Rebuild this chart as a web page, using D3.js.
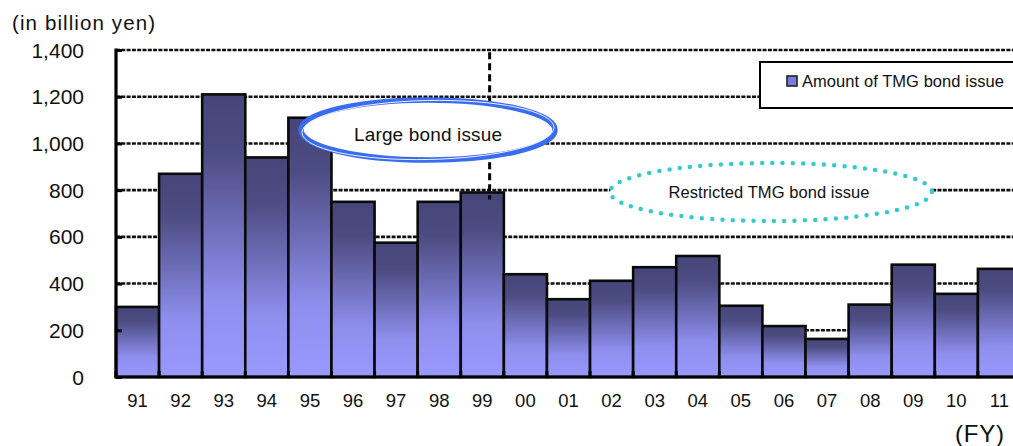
<!DOCTYPE html>
<html>
<head>
<meta charset="utf-8">
<script src="https://cdn.jsdelivr.net/npm/d3@7"></script>
<style>
  html, body { margin: 0; padding: 0; background: #fff; overflow: hidden; }
  text { font-family: "Liberation Sans", Arial, sans-serif; fill: #111; }
</style>
</head>
<body>
<svg id="chart" width="1013" height="446"></svg>
<script>
const categories = ["91","92","93","94","95","96","97","98","99","00","01","02","03","04","05","06","07","08","09","10","11"];
const values = [300,870,1210,940,1110,750,575,750,790,440,333,412,470,518,305,218,163,310,481,356,463];
const yTicks = [0,200,400,600,800,1000,1200,1400];
const seriesName = "Amount of TMG bond issue";
const unitLabel = "(in billion yen)";
const xUnitLabel = "(FY)";
const annotationLarge = "Large bond issue";
const annotationRestricted = "Restricted TMG bond issue";
const dividerCategory = "99";

(function () {
const svg = d3.select("#chart");
const pL = 116, pR = 1021, pT = 50, pB = 377;

const x = d3.scaleBand().domain(categories).range([pL, pR]).padding(0);
const y = d3.scaleLinear().domain([0, 1400]).range([pB, pT]);

const defs = svg.append("defs");
const grad = defs.append("linearGradient").attr("id", "barGrad")
  .attr("x1", 0).attr("y1", 0).attr("x2", 0).attr("y2", 1);
grad.append("stop").attr("offset", 0).attr("stop-color", "#46467a");
grad.append("stop").attr("offset", 0.2).attr("stop-color", "#4c4c82");
grad.append("stop").attr("offset", 0.47).attr("stop-color", "#6e6eba");
grad.append("stop").attr("offset", 0.72).attr("stop-color", "#8e8eee");
grad.append("stop").attr("offset", 1).attr("stop-color", "#9999ff");

// gridlines
svg.append("g").selectAll("line").data(yTicks.filter(d => d > 0)).join("line")
  .attr("x1", pL).attr("x2", pR)
  .attr("y1", d => y(d)).attr("y2", d => y(d))
  .attr("stroke", "#111").attr("stroke-width", 2.6)
  .attr("stroke-dasharray", "4 1.3");

// bars
svg.append("g").selectAll("rect").data(values).join("rect")
  .attr("x", (d, i) => x(categories[i]))
  .attr("y", d => y(d))
  .attr("width", x.bandwidth())
  .attr("height", d => y(0) - y(d))
  .attr("fill", "url(#barGrad)")
  .attr("stroke", "#0a0a0a").attr("stroke-width", 2.6);

// y axis
const yAxis = d3.axisRight(y).tickValues(yTicks).tickSize(6).tickFormat("");
const gy = svg.append("g").attr("transform", `translate(${pL},0)`).call(yAxis);
gy.select(".domain").remove();
gy.selectAll("line").attr("stroke", "#000").attr("stroke-width", 3);
svg.append("g").selectAll("text").data(yTicks).join("text")
  .attr("x", 84).attr("y", d => y(d) + 7.5)
  .attr("text-anchor", "end").attr("font-size", 21)
  .text(d => d3.format(",")(d));

// x axis ticks at band boundaries
const bounds = categories.map(c => x(c));
svg.append("g").selectAll("line").data(bounds).join("line")
  .attr("x1", d => d).attr("x2", d => d)
  .attr("y1", pB).attr("y2", pB - 6)
  .attr("stroke", "#000").attr("stroke-width", 3);
svg.append("g").selectAll("text").data(categories).join("text")
  .attr("x", d => x(d) + x.bandwidth() / 2)
  .attr("y", 407)
  .attr("text-anchor", "middle").attr("font-size", 18.5)
  .text(d => d);

// axis lines
svg.append("line").attr("x1", pL).attr("x2", pL).attr("y1", pT - 1.5).attr("y2", pB + 1.5)
  .attr("stroke", "#000").attr("stroke-width", 3.2);
svg.append("line").attr("x1", pL).attr("x2", pR).attr("y1", pB).attr("y2", pB)
  .attr("stroke", "#000").attr("stroke-width", 3.2);

// vertical dashed divider
const dx = x(dividerCategory) + x.bandwidth() * 0.67;
svg.append("line").attr("x1", dx).attr("x2", dx).attr("y1", y(1390)).attr("y2", y(760))
  .attr("stroke", "#000").attr("stroke-width", 3).attr("stroke-dasharray", "7 4");

// Large bond issue ellipse
const lg = svg.append("g");
lg.append("ellipse").attr("cx", 428).attr("cy", 130).attr("rx", 127).attr("ry", 30)
  .attr("fill", "#fff").attr("stroke", "#3a6cf0").attr("stroke-width", 5.5);
lg.append("ellipse").attr("cx", 428).attr("cy", 130).attr("rx", 126).attr("ry", 29.5)
  .attr("transform", "rotate(-1.2 428 130)")
  .attr("fill", "none").attr("stroke", "#fff").attr("stroke-width", 0.9);
lg.append("text").attr("x", 428).attr("y", 141).attr("text-anchor", "middle")
  .attr("font-size", 19).attr("textLength", 148).text(annotationLarge);

// Restricted ellipse
const rg = svg.append("g");
rg.append("ellipse").attr("cx", 771).attr("cy", 192).attr("rx", 161).attr("ry", 29)
  .attr("fill", "#fff").attr("stroke", "#33cccc").attr("stroke-width", 4.5)
  .attr("stroke-dasharray", "0 10.3").attr("stroke-linecap", "round");
rg.append("text").attr("x", 769).attr("y", 198).attr("text-anchor", "middle")
  .attr("font-size", 16.5).attr("textLength", 201).text(annotationRestricted);

// legend
const leg = svg.append("g");
leg.append("rect").attr("x", 760).attr("y", 62).attr("width", 262).attr("height", 46)
  .attr("fill", "#fff").attr("stroke", "#000").attr("stroke-width", 2);
leg.append("rect").attr("x", 787).attr("y", 76).attr("width", 10).attr("height", 10)
  .attr("fill", "#7a7ae0").attr("stroke", "#222").attr("stroke-width", 1.6);
leg.append("text").attr("x", 802).attr("y", 87).attr("font-size", 16.5)
  .attr("textLength", 202).text(seriesName);

// unit labels
svg.append("text").attr("x", 12).attr("y", 30).attr("font-size", 20.5)
  .attr("textLength", 143).text(unitLabel);
svg.append("text").attr("x", 955).attr("y", 442).attr("font-size", 24)
  .attr("textLength", 49).text(xUnitLabel);
})();
</script>
</body>
</html>
